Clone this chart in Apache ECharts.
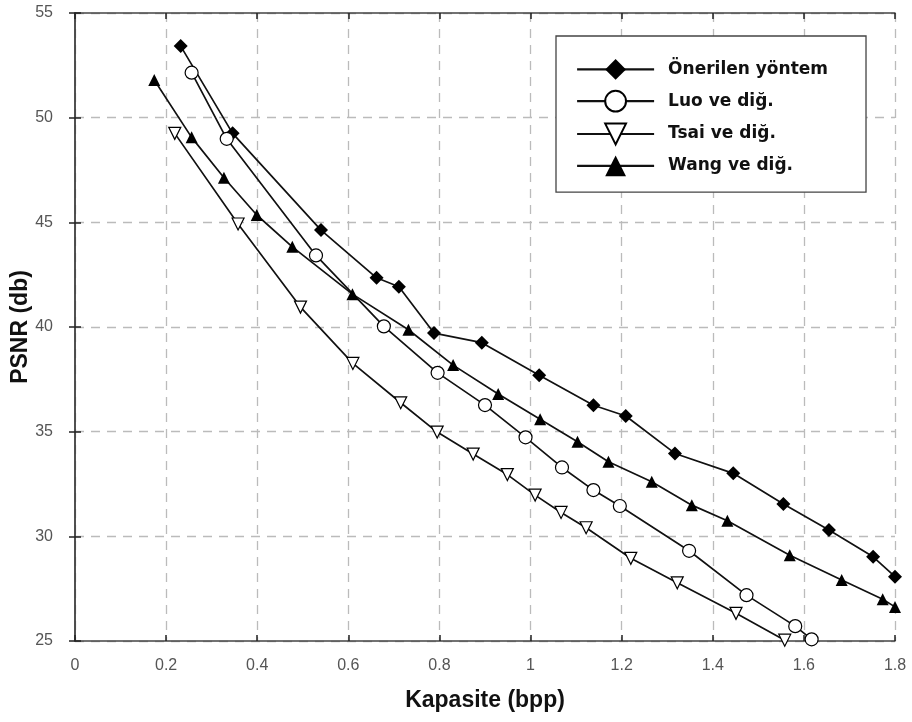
<!DOCTYPE html>
<html>
<head>
<meta charset="utf-8">
<script src="https://cdn.jsdelivr.net/npm/echarts@6/dist/echarts.min.js"></script>
<style>
  html, body { margin: 0; padding: 0; background: #fff; }
  #root { width: 912px; height: 722px; }
</style>
</head>
<body>
<div id="root"></div>
<script>
// Kapasite (bpp) / PSNR (db) pairs
const oneriX = [0.232, 0.346, 0.540, 0.662, 0.711, 0.788, 0.893, 1.019, 1.138, 1.209, 1.317, 1.445, 1.555, 1.655, 1.752, 1.800];
const oneriY = [53.42, 49.25, 44.63, 42.35, 41.92, 39.71, 39.25, 37.70, 36.26, 35.75, 33.96, 33.01, 31.54, 30.30, 29.02, 28.07];

const luoX = [0.256, 0.333, 0.529, 0.678, 0.796, 0.900, 0.989, 1.069, 1.138, 1.196, 1.348, 1.474, 1.581, 1.617];
const luoY = [52.15, 48.99, 43.42, 40.03, 37.81, 36.27, 34.73, 33.29, 32.21, 31.45, 29.31, 27.19, 25.71, 25.08];

const tsaiX = [0.219, 0.358, 0.495, 0.610, 0.715, 0.795, 0.874, 0.949, 1.010, 1.067, 1.122, 1.220, 1.322, 1.451, 1.558];
const tsaiY = [49.25, 44.92, 40.95, 38.26, 36.38, 34.98, 33.93, 32.95, 31.97, 31.14, 30.41, 28.95, 27.78, 26.32, 25.04];

const wangX = [0.174, 0.256, 0.327, 0.399, 0.477, 0.609, 0.732, 0.830, 0.929, 1.021, 1.103, 1.171, 1.266, 1.354, 1.432, 1.569, 1.683, 1.773, 1.800];
const wangY = [51.80, 49.06, 47.13, 45.35, 43.83, 41.57, 39.87, 38.18, 36.80, 35.59, 34.52, 33.56, 32.61, 31.49, 30.74, 29.10, 27.91, 26.99, 26.63];

const seriesNames = ['Önerilen yöntem', 'Luo ve diğ.', 'Tsai ve diğ.', 'Wang ve diğ.'];

const pairs = (xs, ys) => xs.map((x, i) => [x, ys[i]]);

let root = document.getElementById('root');
let myChart = echarts.init(root);

const tickFont = { fontFamily: 'Liberation Sans Narrow, Liberation Sans, Arial', fontSize: 16, color: '#555' };
const nameFont = { fontFamily: 'Liberation Sans Narrow, Liberation Sans, Arial', fontSize: 23, fontWeight: 'bold', color: '#111' };
const frameLine = { show: true, lineStyle: { color: '#444', width: 1.5 } };
const gridLine = { show: true, lineStyle: { color: '#bbb', type: [9, 7], width: 1.3 } };
const innerTick = { show: true, inside: true, length: 6, lineStyle: { color: '#222', width: 1.5 } };

function lineSeries(name, data, symbol, filled, size, rotate) {
    return {
        name: name,
        type: 'line',
        data: data,
        symbol: symbol,
        symbolSize: size,
        symbolRotate: rotate || 0,
        lineStyle: { color: '#111', width: 1.7 },
        itemStyle: { color: filled ? '#000' : '#fff', borderColor: '#000', borderWidth: filled ? 0 : 1.2 },
        emphasis: { disabled: true },
        z: 3,
        animation: false
    };
}

let option = {
    backgroundColor: '#fff',
    grid: { left: 75, right: 17, top: 13, bottom: 81, outerBoundsMode: 'none', containLabel: false },
    legend: {
        left: 556,
        top: 36,
        orient: 'vertical',
        itemWidth: 77,
        itemHeight: 26,
        itemGap: 10,
        padding: [23, 38, 16, 20],
        backgroundColor: '#fff',
        borderColor: '#444',
        borderWidth: 1.3,
        lineStyle: { width: 2.2 },
        textStyle: { fontFamily: 'DejaVu Sans', fontWeight: 'bold', fontSize: 17, color: '#111', padding: [0, 0, 0, 9] },
        data: seriesNames
    },
    xAxis: [{
        type: 'value', min: 0, max: 1.8, interval: 0.2,
        name: 'Kapasite (bpp)', nameLocation: 'middle', nameGap: 48, nameTextStyle: nameFont,
        axisLine: frameLine, axisTick: innerTick, splitLine: gridLine,
        axisLabel: Object.assign({ margin: 17, formatter: v => +v.toFixed(1) + '' }, tickFont)
    }, {
        type: 'value', min: 0, max: 1.8, interval: 0.2, position: 'top',
        axisLine: frameLine, axisTick: innerTick, splitLine: { show: false }, axisLabel: { show: false }
    }],
    yAxis: [{
        type: 'value', min: 25, max: 55, interval: 5,
        name: 'PSNR (db)', nameLocation: 'middle', nameGap: 43, nameMoveOverlap: false, nameTextStyle: nameFont,
        axisLine: frameLine, axisTick: innerTick, splitLine: gridLine,
        axisLabel: Object.assign({ margin: 22 }, tickFont)
    }, {
        type: 'value', min: 25, max: 55, interval: 5, position: 'right',
        axisLine: frameLine, axisTick: innerTick, splitLine: { show: false }, axisLabel: { show: false }
    }],
    series: [
        lineSeries(seriesNames[0], pairs(oneriX, oneriY), 'diamond', true, 14),
        lineSeries(seriesNames[1], pairs(luoX, luoY), 'circle', false, 13),
        lineSeries(seriesNames[2], pairs(tsaiX, tsaiY), 'triangle', false, 12, 180),
        lineSeries(seriesNames[3], pairs(wangX, wangY), 'triangle', true, 12)
    ]
};
myChart.setOption(option);
</script>
</body>
</html>
